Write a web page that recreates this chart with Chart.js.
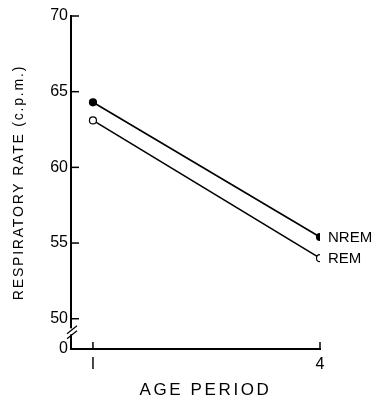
<!DOCTYPE html>
<html>
<head>
<meta charset="utf-8">
<script src="https://cdn.jsdelivr.net/npm/chart.js@4/dist/chart.umd.min.js"></script>
<style>
  html, body { margin: 0; padding: 0; background: #fff; }
  #wrap { width: 377px; height: 401px; }
</style>
</head>
<body>
<div id="wrap"><canvas id="myChart" width="377" height="401"></canvas></div>
<script>
const agePeriods = [1, 4]
const nremRate = [64.3, 55.4]
const remRate = [63.1, 54.0]
const yTicks = [48, 50, 55, 60, 65, 70]
const yTickLabels = ['0', '50', '55', '60', '65', '70']
const seriesNames = ['NREM', 'REM']

const font = '"Liberation Sans", "DejaVu Sans", sans-serif'
const narrow = '"Liberation Sans Narrow", "Liberation Sans", sans-serif'

// extra letter spacing and nudge for the axis titles
const titleStyle = {
  x: { spacing: '2.6px', shift: 10 },
  y: { spacing: '1.8px', shift: 0 }
}

function toPoints(values) {
  return agePeriods.map((x, i) => ({ x: x, y: values[i] }))
}

const spacedTitles = {
  id: 'spacedTitles',
  beforeDraw(chart) {
    Object.keys(chart.scales).forEach((id) => {
      const s = chart.scales[id]
      if (s._spaced || !titleStyle[id]) return
      const orig = s.drawTitle.bind(s)
      s.drawTitle = () => {
        s.ctx.save()
        s.ctx.letterSpacing = titleStyle[id].spacing
        s.ctx.translate(titleStyle[id].shift, 0)
        orig()
        s.ctx.restore()
      }
      s._spaced = true
    })
  }
}

// inward tick marks, axis break and the end labels
const decorations = {
  id: 'decorations',
  afterDraw(chart) {
    const ctx = chart.ctx
    const xs = chart.scales.x
    const ys = chart.scales.y
    const left = chart.chartArea.left
    const bottom = chart.chartArea.bottom
    ctx.save()
    ctx.strokeStyle = '#000'
    ctx.lineWidth = 1.5
    yTicks.forEach((v) => {
      if (v === yTicks[0]) return
      const y = ys.getPixelForValue(v)
      ctx.beginPath()
      ctx.moveTo(left, y)
      ctx.lineTo(left + 8, y)
      ctx.stroke()
    })
    agePeriods.forEach((v) => {
      const x = xs.getPixelForValue(v)
      ctx.beginPath()
      ctx.moveTo(x, bottom)
      ctx.lineTo(x, bottom - 7)
      ctx.stroke()
    })
    // break marks on the y axis
    const yb = ys.getPixelForValue(49.1)
    ctx.fillStyle = '#fff'
    ctx.fillRect(left - 3, yb - 4, 6, 6)
    ctx.lineWidth = 1.3
    ;[-2.5, 2.5].forEach((d) => {
      ctx.beginPath()
      ctx.moveTo(left - 4, yb + d + 4)
      ctx.lineTo(left + 6, yb + d - 4)
      ctx.stroke()
    })
    // series names next to last points
    ctx.fillStyle = '#000'
    ctx.font = '15px ' + font
    ctx.textBaseline = 'middle'
    chart.data.datasets.forEach((ds, i) => {
      const meta = chart.getDatasetMeta(i)
      const pt = meta.data[meta.data.length - 1]
      ctx.fillText(seriesNames[i], pt.x + 8, pt.y + 1)
    })
    ctx.restore()
  }
}

function initChart() {
  const ctx = document.getElementById('myChart')

  const data = {
    datasets: [
      {
        label: seriesNames[0],
        data: toPoints(nremRate),
        borderColor: '#000',
        borderWidth: 1.6,
        pointRadius: 3.5,
        pointBackgroundColor: '#000',
        pointBorderColor: '#000',
        pointBorderWidth: 1.2,
        fill: false
      },
      {
        label: seriesNames[1],
        data: toPoints(remRate),
        borderColor: '#000',
        borderWidth: 1.6,
        pointRadius: 3.5,
        pointBackgroundColor: '#fff',
        pointBorderColor: '#000',
        pointBorderWidth: 1.2,
        fill: false
      }
    ]
  }

  const config = {
    type: 'line',
    data: data,
    plugins: [spacedTitles, decorations],
    options: {
      responsive: false,
      animation: false,
      layout: {
        padding: { top: 16, right: 57, left: 0, bottom: 0 }
      },
      plugins: {
        legend: { display: false },
        tooltip: { enabled: false }
      },
      scales: {
        x: {
          type: 'linear',
          min: 0.71,
          max: 4,
          afterBuildTicks: (scale) => {
            scale.ticks = agePeriods.map((v) => ({ value: v }))
          },
          afterFit: (scale) => {
            scale.height = 52
          },
          grid: { display: false, drawTicks: false },
          border: { display: true, color: '#000', width: 2 },
          ticks: {
            color: '#000',
            padding: 6,
            font: { family: narrow, size: 16 },
            callback: (v) => (v === 1 ? 'I' : String(v))
          },
          title: {
            display: true,
            text: 'AGE PERIOD',
            color: '#000',
            font: { family: font, size: 17 },
            padding: { top: 2, bottom: 0 }
          }
        },
        y: {
          min: 48,
          max: 70,
          afterBuildTicks: (scale) => {
            scale.ticks = yTicks.map((v) => ({ value: v }))
          },
          afterFit: (scale) => {
            scale.width = 71
          },
          grid: { display: false, drawTicks: false },
          border: { display: true, color: '#000', width: 2 },
          ticks: {
            color: '#000',
            padding: 3,
            font: { family: narrow, size: 16 },
            callback: (v) => yTickLabels[yTicks.indexOf(v)]
          },
          title: {
            display: true,
            text: 'RESPIRATORY RATE (c.p.m.)',
            color: '#000',
            font: { family: font, size: 14 },
            padding: { top: 11, bottom: 0 }
          }
        }
      }
    }
  }
  // eslint-disable-next-line no-undef
  new Chart(ctx, config)
}

initChart()
</script>
</body>
</html>
